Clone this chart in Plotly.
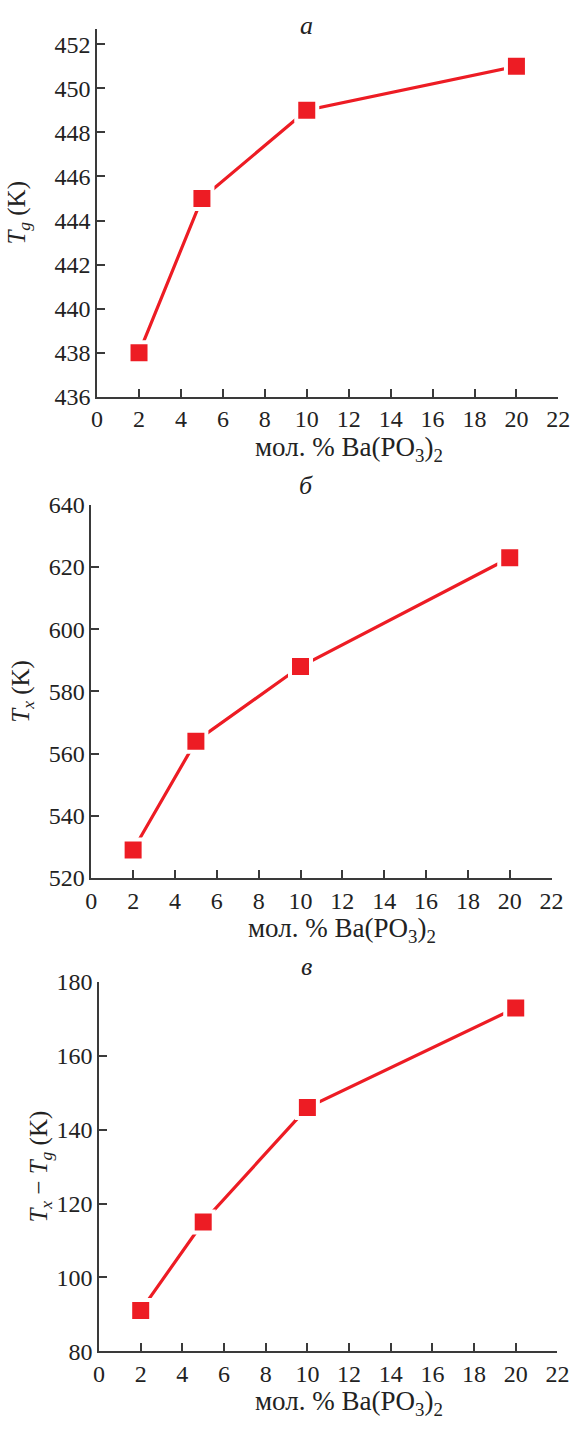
import plotly.graph_objects as go

# Composition, mol. % Ba(PO3)2
x_mol = [2, 5, 10, 20]

# Glass transition temperature Tg, K
tg = [438, 445, 449, 451]
# Crystallization onset Tx, K
tx = [529, 564, 588, 623]
# Thermal stability Tx - Tg, K
dt = [91, 115, 146, 173]

x_ticks = list(range(0, 23, 2))
tg_ticks = list(range(436, 453, 2))
tx_ticks = list(range(520, 641, 20))
dt_ticks = list(range(80, 181, 20))

W, H = 582, 1430
RED = "#ED1C24"
AX = "#3a3a3a"
INK = "#222"
FONT = "Liberation Serif, Times New Roman, serif"
X_TITLE = "мол. % Ba(PO<sub>3</sub>)<sub>2</sub>"

panels = [
    # (y values, y ticks, y range, x px span, y px span, y title, title standoff,
    #  panel letter, letter centre y px)
    (tg, tg_ticks, [436, 452.7], (94, 570), (16, 391),
     "<i>T<sub>g</sub></i> (K)", 22, "а", 20),
    (tx, tx_ticks, [520, 640], (88, 563), (501, 881),
     "<i>T<sub>x</sub></i> (K)", 12, "б", 488),
    (dt, dt_ticks, [80, 180], (96, 569), (987, 1363),
     "<i>T<sub>x</sub></i> − <i>T<sub>g</sub></i> (K)", 0, "в", 978),
]

fig = go.Figure()
annotations = []

for i, (yv, yt, yr, xs, ys, ytitle, ystand, letter, ly) in enumerate(panels, start=1):
    xa = "x" if i == 1 else f"x{i}"
    ya = "y" if i == 1 else f"y{i}"
    fig.add_trace(go.Scatter(
        x=x_mol, y=yv, xaxis=xa, yaxis=ya, mode="lines+markers",
        line=dict(color=RED, width=3.2),
        marker=dict(symbol="square", size=21, color=RED,
                    line=dict(color="white", width=4)),
        cliponaxis=False, showlegend=False,
    ))
    xdom = [xs[0] / W, xs[1] / W]
    ydom = [1 - ys[1] / H, 1 - ys[0] / H]
    axis_common = dict(
        showgrid=False, zeroline=False, showline=True, linecolor=AX,
        linewidth=1.5, ticks="inside", ticklen=8, tickwidth=1.5,
        tickcolor=AX, tickfont=dict(family=FONT, size=24, color=INK),
    )
    fig.layout[f"xaxis{'' if i == 1 else i}"] = dict(
        domain=xdom, range=[0, 22], tickvals=x_ticks, anchor=ya,
        **axis_common,
    )
    fig.layout[f"yaxis{'' if i == 1 else i}"] = dict(
        domain=ydom, range=yr, tickvals=yt, anchor=xa,
        title=dict(text=ytitle, font=dict(family=FONT, size=25, color=INK),
                   standoff=ystand),
        **axis_common,
    )
    # composition label under the x axis, centred a little right of the
    # axis middle (over x = 12)
    annotations.append(dict(
        text=X_TITLE, xref=f"{xa} domain", yref="paper",
        x=12 / 22, y=1 - (ys[1] + 53) / H, xanchor="center", yanchor="middle",
        showarrow=False, font=dict(family=FONT, size=27, color=INK),
    ))
    # italic panel letter above the plot area; the glyph sits below the
    # text box centre, so the anchor is lifted a few pixels
    annotations.append(dict(
        text=f"<i>{letter}</i>", xref="paper", yref="paper",
        x=310 / W, y=1 - (ly - 7) / H, yanchor="middle",
        showarrow=False, font=dict(family=FONT, size=26, color=INK),
    ))

fig.update_layout(
    width=W, height=H, margin=dict(l=0, r=0, t=0, b=0),
    paper_bgcolor="white", plot_bgcolor="white",
    font=dict(family=FONT, size=24, color=INK),
    annotations=annotations,
)

fig.write_html("out.html")
